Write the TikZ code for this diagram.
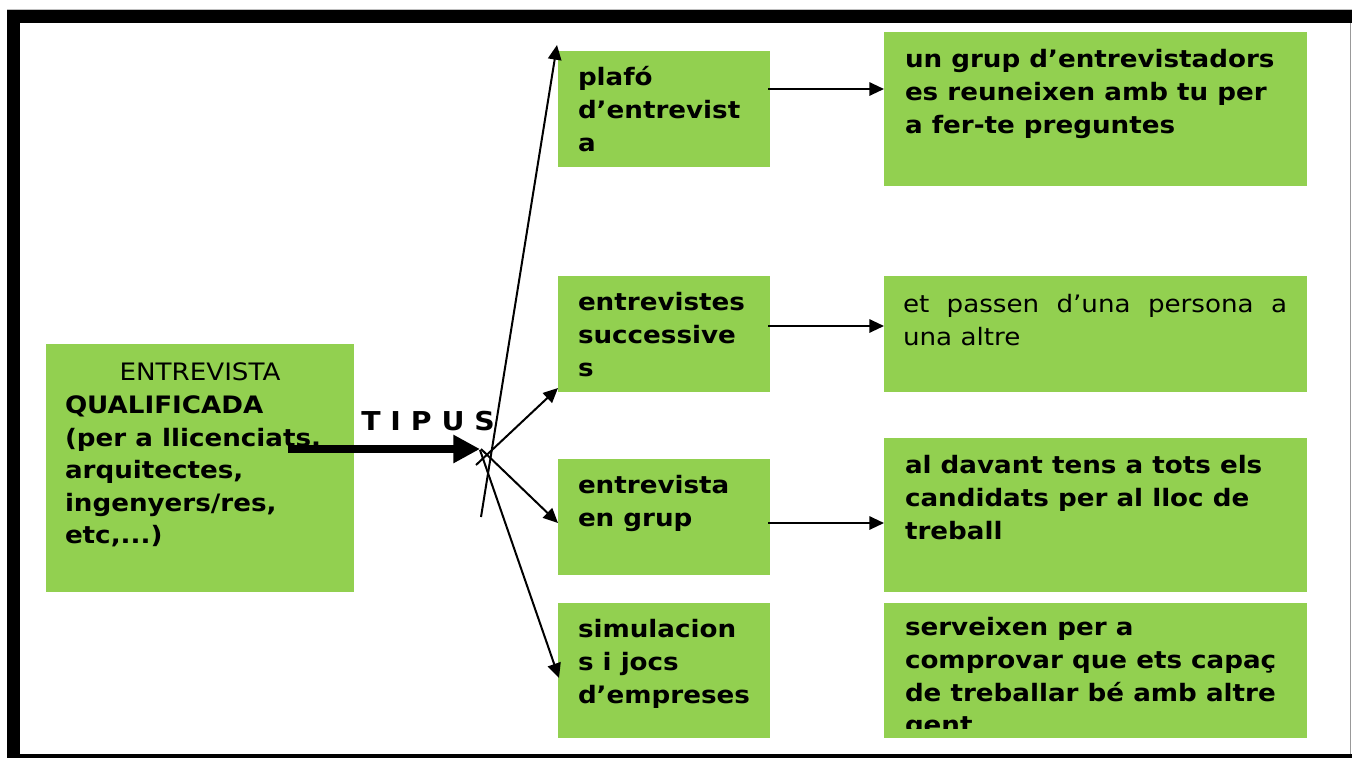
\documentclass[tikz,border=0pt]{standalone}
\usepackage{fontspec}
\setmainfont{DejaVu Sans}[FakeStretch=1.09]
\usetikzlibrary{arrows.meta,calc,fit}
\definecolor{boxgreen}{HTML}{92D050}
\begin{document}
\begin{tikzpicture}[x=0.75pt,y=-0.75pt,
  box/.style={fill=boxgreen, draw=none, inner sep=0pt, outer sep=0pt},
  txt/.style={anchor=north west, inner sep=0pt, outer sep=0pt, align=left,
    font=\fontsize{18}{24.4}\selectfont\bfseries},
  txtreg/.style={txt, font=\fontsize{18}{24.4}\selectfont},
  arr/.style={-{Triangle[length=11pt,width=10pt]}, line width=1.5pt},
  bigarr/.style={-{Triangle[length=20pt,width=20pt]}, line width=6pt},
]
\useasboundingbox (0,0) rectangle (1352,758);
% frame
\fill[black] (7,10) rectangle (1352,23);
\fill[black] (7,10) rectangle (20,758);
\fill[black] (7,754) rectangle (1352,758);
\draw[black!25, line width=0.75pt] (7,9) -- (1352,9);
\draw[black!40, line width=0.75pt] (1350.5,23) -- (1350.5,754);

% boxes
\node[box, fit={(46,344) (354,592)}] (main) {};
\node[box, fit={(558,51) (770,167)}] (plafo) {};
\node[box, fit={(558,276) (770,392)}] (succ) {};
\node[box, fit={(558,459) (770,575)}] (grup) {};
\node[box, fit={(558,603) (770,738)}] (sim) {};
\node[box, fit={(884,32) (1307,186)}] (d1) {};
\node[box, fit={(884,276) (1307,392)}] (d2) {};
\node[box, fit={(884,438) (1307,592)}] (d3) {};
\node[box, fit={(884,603) (1307,738)}] (d4) {};

% texts
\node[txt] (main-t) at ($(main.north west)+(19,14.2)$)
  {\strut\hbox to 202.5pt{\hfil\mdseries ENTREVISTA\hfil}\\QUALIFICADA\\(per a llicenciats,\\arquitectes,\\ingenyers/res,\\etc,...)};
\node[txt] (plafo-t) at ($(plafo.north west)+(20,12.2)$) {\strut plafó\\d’entrevist\\a};
\node[txt] (succ-t) at ($(succ.north west)+(20,12.2)$) {\strut entrevistes\\successive\\s};
\node[txt] (grup-t) at ($(grup.north west)+(20,12.2)$) {\strut entrevista\\en grup};
\node[txt] (sim-t) at ($(sim.north west)+(20,12.2)$) {\strut simulacion\\s i jocs\\d’empreses};
\node[txt] (d1-t) at ($(d1.north west)+(21,13.2)$) {\strut un grup d’entrevistadors\\es reuneixen amb tu per\\a fer-te preguntes};
\node[txtreg] (d2-t) at ($(d2.north west)+(19,14.2)$) {\strut\hbox to 288pt{et\hfill passen\hfill d’una\hfill persona\hfill a}\\una altre};
\node[txt] (d3-t) at ($(d3.north west)+(21,13.2)$) {\strut al davant tens a tots els\\candidats per al lloc de\\treball};
\begin{scope}
  \clip (884,603) rectangle (1307,728);
  \node[txt] (d4-t) at ($(d4.north west)+(21,10.2)$) {\strut serveixen per a\\comprovar que ets capaç\\de treballar bé amb altre\\gent};
\end{scope}

% TIPUS
\node[anchor=base west, inner sep=0pt, font=\fontsize{19.5}{24}\selectfont\bfseries] (tipus) at (361,430) {T I P U S};

% junction coordinates
\coordinate (k0) at (288,449);
\coordinate (j0) at (480,449);
\coordinate (s1) at (481,517);
\coordinate (s2) at (476,465);
\coordinate (s3) at (481,449);
\coordinate (s4) at (480,450);

\draw[bigarr] (k0) -- (j0);
\draw[arr] (s1) -- ($(plafo.north west)+(-1,-6)$);
\draw[arr] (s2) -- ($(succ.south west)+(0,-4)$);
\draw[arr] (s3) -- ($(grup.west)+(0,6)$);
\draw[arr] (s4) -- ($(sim.west)+(1,7.5)$);

% horizontal arrows
\coordinate (h1) at ($(plafo.east)+(-2,-20)$);
\coordinate (h2) at ($(succ.east)+(-2,-8)$);
\coordinate (h3) at ($(grup.east)+(-2,6)$);
\draw[arr] (h1) -- (h1 -| d1.west);
\draw[arr] (h2) -- (h2 -| d2.west);
\draw[arr] (h3) -- (h3 -| d3.west);
\end{tikzpicture}
\end{document}
